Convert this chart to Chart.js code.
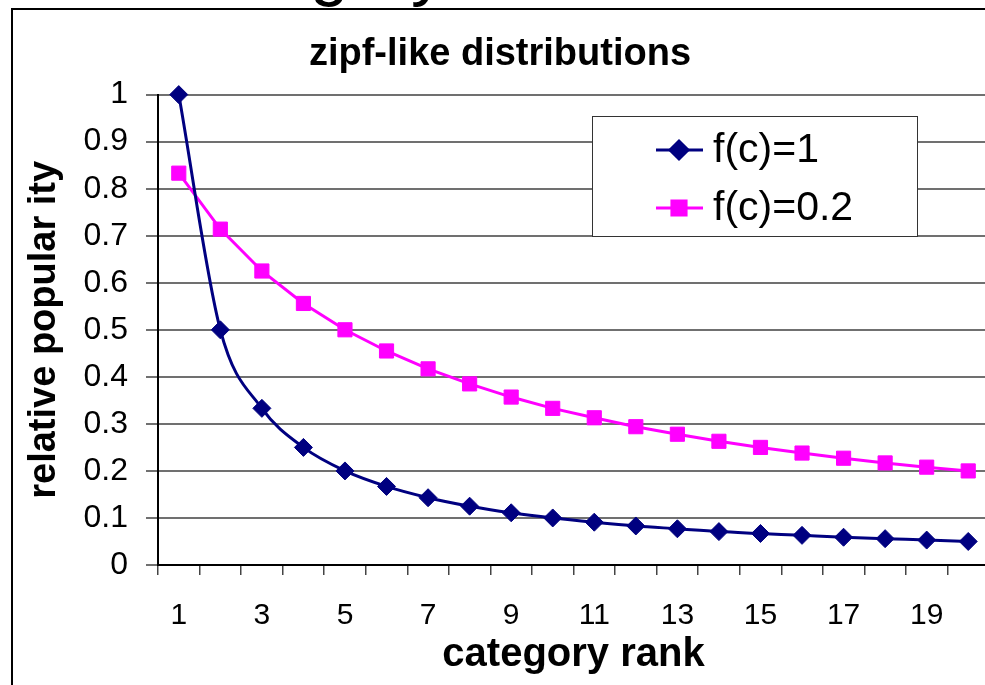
<!DOCTYPE html>
<html>
<head>
<meta charset="utf-8">
<script src="https://cdn.jsdelivr.net/npm/chart.js@4"></script>
<style>
  html, body { margin: 0; padding: 0; background: #fff; overflow: hidden; }
  #wrap { width: 1000px; height: 685px; }
</style>
</head>
<body>
<div id="wrap"><canvas id="myChart" width="1000" height="685"></canvas></div>
<script>
// datos
const ranks = ['1', '2', '3', '4', '5', '6', '7', '8', '9', '10',
               '11', '12', '13', '14', '15', '16', '17', '18', '19', '20'];
const zipf1 = [1, 0.5, 0.333, 0.25, 0.2, 0.167, 0.143, 0.125, 0.111, 0.1,
               0.091, 0.083, 0.077, 0.071, 0.067, 0.063, 0.059, 0.056, 0.053, 0.05];
const zipf02 = [0.833, 0.714, 0.625, 0.556, 0.5, 0.455, 0.417, 0.385, 0.357, 0.333,
                0.313, 0.294, 0.278, 0.263, 0.25, 0.238, 0.227, 0.217, 0.208, 0.2];
const seriesNames = ['f(c)=1', 'f(c)=0.2'];
const yTicks = [0, 0.1, 0.2, 0.3, 0.4, 0.5, 0.6, 0.7, 0.8, 0.9, 1];

const FONT = 'Arial, "Liberation Sans", Helvetica, sans-serif';

// marco y texto cortado de la diapositiva
const framePlugin = {
    id: 'frame',
    beforeDraw(chart) {
        const c = chart.ctx;
        c.save();
        c.fillStyle = '#000';
        c.font = '70px ' + FONT;
        c.textBaseline = 'alphabetic';
        c.fillText('Category', 162, -8);
        c.restore();
    },
    afterDraw(chart) {
        const c = chart.ctx;
        c.save();
        c.strokeStyle = '#000';
        c.lineWidth = 2;
        c.strokeRect(12, 9, 2000, 2000);
        c.restore();
    }
};

// leyenda dentro del área del gráfico
const boxLegend = {
    id: 'boxLegend',
    afterDatasetsDraw(chart) {
        const c = chart.ctx;
        const box = { x: 592, y: 116, w: 325, h: 120 };
        c.save();
        c.fillStyle = '#fff';
        c.fillRect(box.x, box.y, box.w, box.h);
        c.strokeStyle = '#333';
        c.lineWidth = 1;
        c.strokeRect(box.x + 0.5, box.y + 0.5, box.w, box.h);
        const rows = [150, 208];
        chart.data.datasets.forEach((ds, i) => {
            const y = rows[i];
            c.strokeStyle = ds.borderColor;
            c.lineWidth = 3;
            c.beginPath();
            c.moveTo(656, y);
            c.lineTo(703, y);
            c.stroke();
            c.fillStyle = ds.backgroundColor;
            c.strokeStyle = ds.borderColor;
            Chart.helpers.drawPoint(c, {
                pointStyle: ds.pointStyle,
                radius: ds.pointRadius,
                borderWidth: 1
            }, 679, y);
            c.fillStyle = '#000';
            c.font = '41px ' + FONT;
            c.textBaseline = 'middle';
            c.fillText(ds.label, 713, y + 1);
        });
        c.restore();
    }
};

const ctx = document.getElementById('myChart');

new Chart(ctx, {
    type: 'line',
    data: {
        labels: ranks,
        datasets: [{
            label: seriesNames[0],
            data: zipf1,
            borderColor: '#000080',
            backgroundColor: '#000080',
            borderWidth: 3,
            pointStyle: 'rectRot',
            pointRadius: 9,
            pointBorderWidth: 1,
            cubicInterpolationMode: 'monotone',
            clip: false
        }, {
            label: seriesNames[1],
            data: zipf02,
            borderColor: '#ff00ff',
            backgroundColor: '#ff00ff',
            borderWidth: 3,
            pointStyle: 'rect',
            pointRadius: 10,
            pointBorderWidth: 1,
            tension: 0,
            clip: false
        }]
    },
    options: {
        responsive: false,
        animation: false,
        events: [],
        layout: { padding: { top: 0, left: 10, right: 10, bottom: 0 } },
        plugins: {
            legend: { display: false },
            tooltip: { enabled: false },
            title: {
                display: true,
                text: 'zipf-like distributions',
                color: '#000',
                font: { family: FONT, size: 38, weight: 'bold' },
                padding: { top: 32, bottom: 17 }
            }
        },
        scales: {
            x: {
                type: 'category',
                offset: true,
                afterFit(scale) { scale.height = 120; },
                grid: {
                    offset: true,
                    drawOnChartArea: false,
                    drawTicks: true,
                    tickLength: 10,
                    color: '#444',
                    lineWidth: 1.5
                },
                border: { color: '#000', width: 2 },
                ticks: {
                    autoSkip: false,
                    maxRotation: 0,
                    padding: 23,
                    color: '#000',
                    font: { family: FONT, size: 30 },
                    callback: (v, i) => (i % 2 === 0 ? ranks[i] : '')
                },
                title: {
                    display: true,
                    text: 'category rank',
                    color: '#000',
                    font: { family: FONT, size: 40, weight: 'bold' },
                    padding: { top: 0, bottom: 6 }
                }
            },
            y: {
                min: 0,
                max: 1,
                afterFit(scale) { scale.width = 148; },
                afterBuildTicks(scale) { scale.ticks = yTicks.map(v => ({ value: v })); },
                grid: {
                    color: '#707070',
                    lineWidth: 2,
                    tickLength: 12
                },
                border: { color: '#000', width: 2 },
                ticks: {
                    padding: 18,
                    color: '#000',
                    font: { family: FONT, size: 32 },
                    callback: v => String(v)
                },
                title: {
                    display: true,
                    text: 'relative popular ity',
                    color: '#000',
                    font: { family: FONT, size: 38, weight: 'bold' },
                    padding: { top: 12, bottom: 0 }
                }
            }
        }
    },
    plugins: [framePlugin, boxLegend]
});
</script>
</body>
</html>
